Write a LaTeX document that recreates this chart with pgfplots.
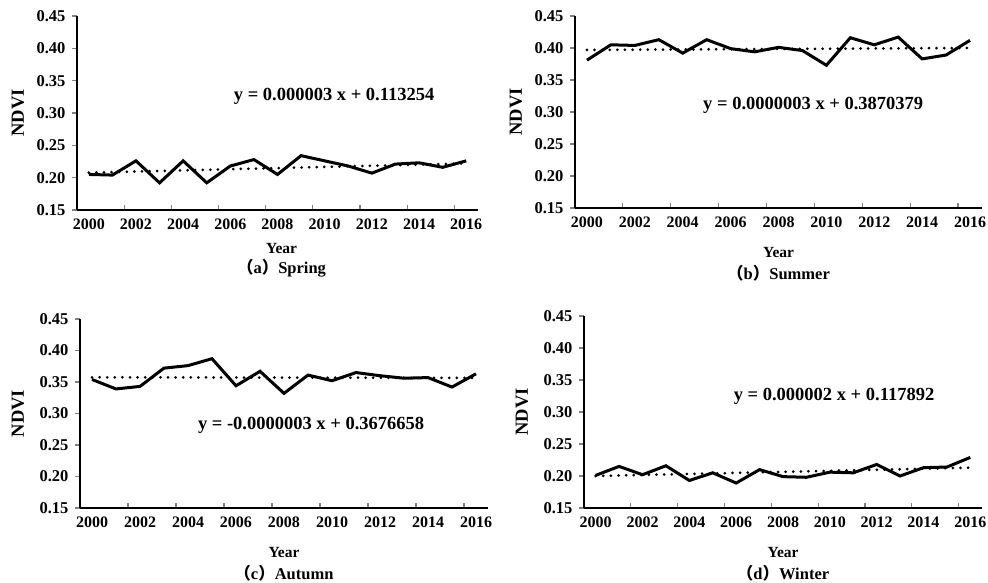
\documentclass[border=0pt]{standalone}
\usepackage{pgfplots}
\pgfplotsset{compat=1.18}
\usepackage{fontspec}
\setmainfont{Liberation Serif}
\newfontfamily\cjk{Noto Sans CJK SC}

\pgfplotsset{
  season/.style={
    scale only axis, axis lines=left,
    axis line style={-, line width=1.2pt},
    xmin=1999.5, xmax=2016.5, ymin=0.15, ymax=0.45,
    xtick={2001.5,2003.5,...,2015.5}, xticklabels={},
    extra x ticks={2000,2002,...,2016},
    extra x tick labels={2000,2002,2004,2006,2008,2010,2012,2014,2016},
    extra x tick style={major tick length=0pt},
    ytick={0.15,0.2,0.25,0.3,0.35,0.4,0.45},
    yticklabels={0.15,0.20,0.25,0.30,0.35,0.40,0.45},
    tick align=inside, major tick length=5pt,
    ytick style={xshift=-5pt, line width=1.2pt},
    xtick style={line width=1.2pt},
    xticklabel style={font=\bfseries\fontsize{16}{18}\selectfont, yshift=-5pt},
    yticklabel style={font=\bfseries\fontsize{16.5}{19}\selectfont, xshift=-8pt},
    clip=false,
  },
  data/.style={black, line width=3pt, mark=none},
  trend/.style={black, line width=3pt, line cap=round, dash pattern=on 0pt off 7.6pt, mark=none},
}
\newcommand{\lab}{\bfseries\fontsize{18.5}{20}\selectfont}
\newcommand{\yr}{\bfseries\fontsize{15.5}{18}\selectfont}
\newcommand{\ttl}{\bfseries\fontsize{16.5}{19}\selectfont}
\newcommand{\eqn}{\bfseries\fontsize{18.5}{21}\selectfont}

\begin{document}
\begin{tikzpicture}
\path[use as bounding box] (0pt,0pt) rectangle (988pt,-583pt);

% (a) spring
\begin{axis}[season, at={(77pt,-210pt)}, anchor=south west, width=401pt, height=194pt]
  \addplot[data] coordinates {(2000,0.205) (2001,0.204) (2002,0.226) (2003,0.192) (2004,0.226) (2005,0.192) (2006,0.218) (2007,0.228) (2008,0.205) (2009,0.234) (2010,0.226) (2011,0.218) (2012,0.207) (2013,0.221) (2014,0.223) (2015,0.216) (2016,0.226)};
  \addplot[trend] coordinates {(2000,0.2077) (2016,0.222)};
  \node[font=\eqn] at (axis cs:2010.4,0.325) {y = 0.000003 x + 0.113254};
  \node[font=\lab, rotate=90] at ([xshift=-59pt]rel axis cs:0,0.5) {NDVI};
  \node[font=\yr] at ([yshift=-38pt]rel axis cs:0.51,0) {Year};
  \node[font=\ttl] at ([yshift=-58pt]rel axis cs:0.51,0) {{\cjk （}a{\cjk ）}Spring};
\end{axis}

% (b) summer
\begin{axis}[season, at={(575pt,-208pt)}, anchor=south west, width=407pt, height=192pt]
  \addplot[data] coordinates {(2000,0.381) (2001,0.405) (2002,0.404) (2003,0.413) (2004,0.392) (2005,0.413) (2006,0.399) (2007,0.394) (2008,0.401) (2009,0.396) (2010,0.373) (2011,0.416) (2012,0.405) (2013,0.417) (2014,0.383) (2015,0.389) (2016,0.412)};
  \addplot[trend] coordinates {(2000,0.397) (2016,0.400)};
  \node[font=\eqn] at (axis cs:2009.45,0.311) {y = 0.0000003 x + 0.3870379};
  \node[font=\lab, rotate=90] at ([xshift=-59pt]rel axis cs:0,0.5) {NDVI};
  \node[font=\yr] at ([yshift=-44pt]rel axis cs:0.5,0) {Year};
  \node[font=\ttl] at ([yshift=-65pt]rel axis cs:0.5,0) {{\cjk （}b{\cjk ）}Summer};
\end{axis}

% (c) autumn
\begin{axis}[season, at={(80pt,-508pt)}, anchor=south west, width=408pt, height=189pt]
  \addplot[data] coordinates {(2000,0.354) (2001,0.339) (2002,0.343) (2003,0.372) (2004,0.376) (2005,0.387) (2006,0.344) (2007,0.367) (2008,0.332) (2009,0.361) (2010,0.352) (2011,0.365) (2012,0.360) (2013,0.356) (2014,0.357) (2015,0.342) (2016,0.363)};
  \addplot[trend] coordinates {(2000,0.3575) (2016,0.3565)};
  \node[font=\eqn] at (axis cs:2009.13,0.2817) {y = -0.0000003 x + 0.3676658};
  \node[font=\lab, rotate=90] at ([xshift=-62pt]rel axis cs:0,0.5) {NDVI};
  \node[font=\yr] at ([yshift=-44pt]rel axis cs:0.5,0) {Year};
  \node[font=\ttl] at ([yshift=-65pt]rel axis cs:0.5,0) {{\cjk （}c{\cjk ）}Autumn};
\end{axis}

% (d) winter
\begin{axis}[season, at={(584pt,-508pt)}, anchor=south west, width=398pt, height=192pt]
  \addplot[data] coordinates {(2000,0.201) (2001,0.215) (2002,0.202) (2003,0.216) (2004,0.193) (2005,0.205) (2006,0.189) (2007,0.210) (2008,0.199) (2009,0.198) (2010,0.206) (2011,0.205) (2012,0.218) (2013,0.200) (2014,0.213) (2015,0.214) (2016,0.229)};
  \addplot[trend] coordinates {(2000,0.200) (2016,0.213)};
  \node[font=\eqn] at (axis cs:2010.18,0.324) {y = 0.000002 x + 0.117892};
  \node[font=\lab, rotate=90] at ([xshift=-62pt]rel axis cs:0,0.5) {NDVI};
  \node[font=\yr] at ([yshift=-44pt]rel axis cs:0.5,0) {Year};
  \node[font=\ttl] at ([yshift=-65pt]rel axis cs:0.5,0) {{\cjk （}d{\cjk ）}Winter};
\end{axis}
\end{tikzpicture}
\end{document}
